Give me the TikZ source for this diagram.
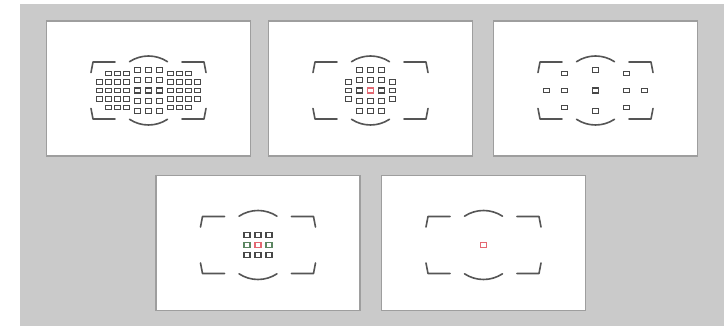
\documentclass[tikz,border=0pt]{standalone}
\usetikzlibrary{positioning}
\definecolor{vfback}{RGB}{202,202,202}
\definecolor{vfedge}{RGB}{158,158,158}
\definecolor{vfline}{RGB}{85,85,85}
\definecolor{vfpoint}{RGB}{72,72,72}
\definecolor{vfred}{RGB}{228,104,114}
\definecolor{vfgreen}{RGB}{92,134,98}

\begin{document}
\begin{tikzpicture}[x=1pt, y=1pt,
  panel/.style={draw=vfedge, fill=white, line width=1.2pt, minimum width=204pt, minimum height=135pt, inner sep=0pt},
  afpoint/.style={draw=vfpoint, line width=1.1pt},
  frameline/.style={vfline, line width=1.6pt, line cap=round, line join=round}]
\useasboundingbox (0,0) rectangle (724,326);
\fill[vfback] (20,0) rectangle (724,322);

% Viewfinder panels
\node[panel] (p51) at (148.5,237.5) {};
\node[panel] (p21) at (370.5,237.5) {};
\node[panel] (p11) at (595.5,237.5) {};
\node[panel] (p9) at (258,83) {};
\node[panel] (p1) at (483.5,83) {};

% Frame brackets and arcs, a little below the panel centre
\foreach \p in {p51,p21,p11,p9,p1} {
  \begin{scope}[shift={(\p.center)}, yshift=-2pt]
    \draw[frameline] (-57.5,18) -- (-55.5,28.5) -- (-33.5,28.5);
    \draw[frameline] (57.5,18) -- (55.5,28.5) -- (33.5,28.5);
    \draw[frameline] (-57.5,-18) -- (-55.5,-28.5) -- (-33.5,-28.5);
    \draw[frameline] (57.5,-18) -- (55.5,-28.5) -- (33.5,-28.5);
    \draw[frameline] (56.6:34.5) arc[start angle=56.6, end angle=123.4, radius=34.5];
    \draw[frameline] (-56.6:34.5) arc[start angle=-56.6, end angle=-123.4, radius=34.5];
  \end{scope}
}

% 51 points
\begin{scope}[shift={(p51.center)}, yshift=-2pt]
  \foreach \x in {-11,0,11}
    \foreach \y in {20.5,10.25,0,-10.25,-20.5}
      \draw[afpoint] (\x,\y) +(-3,-2.5) rectangle +(3,2.5);
  \foreach \s in {-1,1} {
    \foreach \x in {22,31,40,49}
      \foreach \y in {8.5,0,-8.5}
        \draw[afpoint] ({\s*\x},\y) +(-2.8,-2.3) rectangle +(2.8,2.3);
    \foreach \x in {22,31,40}
      \foreach \y in {17,-17}
        \draw[afpoint] ({\s*\x},\y) +(-2.8,-2.3) rectangle +(2.8,2.3);
  }
\end{scope}

% 21 points
\begin{scope}[shift={(p21.center)}, yshift=-2pt]
  \foreach \x in {-11,0,11}
    \foreach \y in {20.5,10.25,0,-10.25,-20.5}
      \draw[afpoint] (\x,\y) +(-3,-2.5) rectangle +(3,2.5);
  \foreach \x in {-22,22}
    \foreach \y in {8.5,0,-8.5}
      \draw[afpoint] (\x,\y) +(-2.8,-2.3) rectangle +(2.8,2.3);
  \draw[afpoint, draw=vfred] (0,0) +(-3,-2.5) rectangle +(3,2.5);
\end{scope}

% 11 points
\begin{scope}[shift={(p11.center)}, yshift=-2pt]
  \foreach \y in {20.5,0,-20.5}
    \draw[afpoint] (0,\y) +(-3,-2.5) rectangle +(3,2.5);
  \foreach \x in {-31,31}
    \foreach \y in {17,0,-17}
      \draw[afpoint] (\x,\y) +(-2.8,-2.3) rectangle +(2.8,2.3);
  \foreach \x in {-49,49}
    \draw[afpoint] (\x,0) +(-2.8,-2.3) rectangle +(2.8,2.3);
\end{scope}

% 9 points
\begin{scope}[shift={(p9.center)}, yshift=-2pt]
  \foreach \x in {-11,0,11}
    \foreach \y in {10.25,-10.25}
      \draw[afpoint] (\x,\y) +(-3,-2.5) rectangle +(3,2.5);
  \foreach \x in {-11,11}
    \draw[afpoint, draw=vfgreen] (\x,0) +(-3,-2.5) rectangle +(3,2.5);
  \draw[afpoint, draw=vfred] (0,0) +(-3,-2.5) rectangle +(3,2.5);
\end{scope}

% single point
\begin{scope}[shift={(p1.center)}, yshift=-2pt]
  \draw[afpoint, draw=vfred] (0,0) +(-3,-2.5) rectangle +(3,2.5);
\end{scope}
\end{tikzpicture}
\end{document}
